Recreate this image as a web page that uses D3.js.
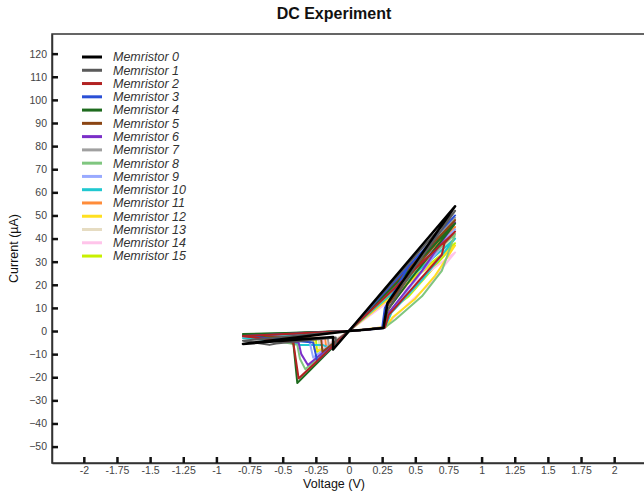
<!DOCTYPE html>
<html>
<head>
<meta charset="utf-8">
<script src="https://cdn.jsdelivr.net/npm/d3@7"></script>
<style>
  body { margin: 0; background: #fff; }
  svg { font-family: 'Liberation Sans', Arial, sans-serif; }
</style>
</head>
<body>
<svg id="chart" width="644" height="493"></svg>
<script>
// legend names and line colours
const names = [
  'Memristor 0', 'Memristor 1', 'Memristor 2', 'Memristor 3',
  'Memristor 4', 'Memristor 5', 'Memristor 6', 'Memristor 7',
  'Memristor 8', 'Memristor 9', 'Memristor 10', 'Memristor 11',
  'Memristor 12', 'Memristor 13', 'Memristor 14', 'Memristor 15'
];
const colors = [
  '#000000', '#5a5a5a', '#b22222', '#2a4fd6',
  '#1e6b1e', '#8b4513', '#7b2fc8', '#a0a0a0',
  '#7fc67f', '#99aaff', '#20c8d0', '#ff8c3a',
  '#ffe020', '#e6dcc2', '#ffc4ea', '#c8f000'
];

// I-V sweeps, [voltage (V), current (uA)]
const m0 = [[0,0],[0.12,0.6],[0.26,1.3],[0.29,12],[0.52,31],[0.8,54],[0.4,27],[0,0],[-0.12,-8],[-0.12,-2.6],[-0.45,-4],[-0.8,-5.6],[-0.4,-2.8],[0,0]];
const m1 = [[0,0],[0.12,0.6],[0.26,1.5],[0.28,8],[0.5,28],[0.8,52],[0.4,26],[0,0],[-0.1,-6.5],[-0.1,-2.8],[-0.55,-5.4],[-0.6,-6],[-0.8,-4.2],[-0.4,-2],[0,0]];
const m2 = [[0,0],[0.12,0.6],[0.27,1.5],[0.3,7],[0.5,20],[0.7,33],[0.72,38],[0.8,43],[0.4,21.5],[0,0],[-0.38,-20.5],[-0.42,-5],[-0.8,-2.2],[-0.4,-1.1],[0,0]];
const m3 = [[0,0],[0.12,0.5],[0.25,1.2],[0.27,10],[0.45,28],[0.8,50],[0.4,25],[0,0],[-0.24,-13],[-0.27,-5],[-0.8,-2.2],[-0.4,-1.1],[0,0]];
const m4 = [[0,0],[0.12,0.6],[0.26,1.4],[0.29,9],[0.5,25],[0.8,46.5],[0.4,23],[0,0],[-0.39,-22.5],[-0.42,-5],[-0.8,-1.3],[-0.4,-0.7],[0,0]];
const m5 = [[0,0],[0.12,0.6],[0.26,1.4],[0.29,11],[0.5,27],[0.8,48],[0.4,24],[0,0],[-0.2,-9],[-0.21,-3.5],[-0.8,-2],[-0.4,-1],[0,0]];
const m6 = [[0,0],[0.12,0.6],[0.27,1.5],[0.3,8],[0.55,26],[0.8,47],[0.4,23.5],[0,0],[-0.31,-14.7],[-0.36,-10],[-0.38,-5],[-0.8,-1.8],[-0.4,-0.9],[0,0]];
const m7 = [[0,0],[0.12,0.5],[0.26,1.2],[0.28,10],[0.5,28],[0.8,49],[0.4,24.5],[0,0],[-0.15,-7.5],[-0.16,-3],[-0.8,-2.5],[-0.4,-1.2],[0,0]];
const m8 = [[0,0],[0.12,0.6],[0.27,1.5],[0.35,5],[0.55,15],[0.7,26],[0.8,42],[0.4,21],[0,0],[-0.33,-16.5],[-0.37,-12],[-0.39,-6],[-0.8,-1.6],[-0.4,-0.8],[0,0]];
const m9 = [[0,0],[0.12,0.6],[0.26,1.3],[0.3,7],[0.5,22],[0.8,44],[0.4,22],[0,0],[-0.27,-11.5],[-0.3,-4],[-0.8,-2],[-0.4,-1],[0,0]];
const m10 = [[0,0],[0.12,0.6],[0.27,1.5],[0.32,8],[0.55,22],[0.8,40],[0.4,20],[0,0],[-0.16,-7],[-0.2,-6],[-0.37,-6],[-0.45,-4.5],[-0.8,-3],[-0.4,-1.5],[0,0]];
const m11 = [[0,0],[0.12,0.6],[0.26,1.4],[0.3,10],[0.5,25],[0.8,45],[0.4,22.5],[0,0],[-0.17,-8.5],[-0.18,-3],[-0.8,-2],[-0.4,-1],[0,0]];
const m12 = [[0,0],[0.12,0.7],[0.28,1.8],[0.33,6],[0.5,14],[0.65,24],[0.8,37],[0.4,18.5],[0,0],[-0.2,-8.5],[-0.26,-8],[-0.27,-3],[-0.8,-2],[-0.4,-1],[0,0]];
const m13 = [[0,0],[0.12,0.6],[0.27,1.5],[0.32,8],[0.55,22],[0.8,41],[0.4,20.5],[0,0],[-0.22,-9],[-0.23,-3],[-0.8,-2],[-0.4,-1],[0,0]];
const m14 = [[0,0],[0.12,0.7],[0.28,1.8],[0.34,6],[0.6,20],[0.8,34],[0.4,17],[0,0],[-0.19,-7],[-0.2,-3],[-0.8,-2],[-0.4,-1],[0,0]];
const m15 = [[0,0],[0.12,0.6],[0.27,1.6],[0.31,9],[0.45,15],[0.8,38],[0.4,19],[0,0],[-0.24,-9],[-0.25,-3.5],[-0.8,-2],[-0.4,-1],[0,0]];
const sweeps = [m0, m1, m2, m3, m4, m5, m6, m7, m8, m9, m10, m11, m12, m13, m14, m15];

// axis ticks
const xTicks = [-2, -1.75, -1.5, -1.25, -1, -0.75, -0.5, -0.25, 0, 0.25, 0.5, 0.75, 1, 1.25, 1.5, 1.75, 2];
const yTicks = [-50, -40, -30, -20, -10, 0, 10, 20, 30, 40, 50, 60, 70, 80, 90, 100, 110, 120];

const svg = d3.select('#chart');
const plotLeft = 52, plotRight = 646, plotTop = 34, plotBottom = 463;

const x = d3.scaleLinear().domain([-2.24, 2.24]).range([plotLeft, plotRight]);
const y = d3.scaleLinear().domain([-57.1, 128.5]).range([plotBottom, plotTop]);

// plot frame
svg.append('rect')
  .attr('x', plotLeft).attr('y', plotTop)
  .attr('width', plotRight - plotLeft).attr('height', plotBottom - plotTop)
  .attr('fill', 'none')
  .attr('stroke', '#333')
  .attr('stroke-width', 1.5);

// axes, ticks pointing inwards
const yAxis = svg.append('g')
  .attr('transform', `translate(${plotLeft},0)`)
  .call(d3.axisLeft(y).tickValues(yTicks).tickSizeInner(-6).tickSizeOuter(0).tickPadding(5));
const xAxis = svg.append('g')
  .attr('transform', `translate(0,${plotBottom})`)
  .call(d3.axisBottom(x).tickValues(xTicks).tickFormat(d => String(d)).tickSizeInner(-6).tickSizeOuter(0).tickPadding(4));

[yAxis, xAxis].forEach(g => {
  g.select('.domain').attr('stroke', '#333').attr('stroke-width', 1.5);
  g.selectAll('.tick line').attr('stroke', '#111').attr('stroke-width', 2.5);
  g.selectAll('.tick text')
    .attr('fill', '#444')
    .style('font-size', '10.5px')
    .style('font-family', "'Liberation Sans', Arial, sans-serif");
});

// curves, Memristor 0 on top
const line = d3.line().x(d => x(d[0])).y(d => y(d[1]));
const curves = svg.append('g');
for (let i = sweeps.length - 1; i >= 0; i--) {
  curves.append('path')
    .datum(sweeps[i])
    .attr('fill', 'none')
    .attr('stroke', colors[i])
    .attr('stroke-width', i === 0 ? 2.5 : 2)
    .attr('stroke-linejoin', 'round')
    .attr('d', line);
}

// legend
const legend = svg.append('g');
names.forEach((name, i) => {
  const ly = 57 + i * 13.27;
  legend.append('line')
    .attr('x1', 82).attr('x2', 102)
    .attr('y1', ly).attr('y2', ly)
    .attr('stroke', colors[i])
    .attr('stroke-width', 3);
  legend.append('text')
    .attr('x', 113).attr('y', ly)
    .attr('dy', '0.35em')
    .attr('fill', '#333')
    .style('font-size', '12.5px')
    .style('font-style', 'italic')
    .text(name);
});

// titles
svg.append('text')
  .attr('x', 334).attr('y', 19)
  .attr('text-anchor', 'middle')
  .attr('fill', '#111')
  .style('font-size', '16px')
  .style('font-weight', 'bold')
  .text('DC Experiment');

svg.append('text')
  .attr('x', 334).attr('y', 488)
  .attr('text-anchor', 'middle')
  .attr('fill', '#111')
  .style('font-size', '12.5px')
  .text('Voltage (V)');

svg.append('text')
  .attr('transform', `translate(18,${(plotTop + plotBottom) / 2}) rotate(-90)`)
  .attr('text-anchor', 'middle')
  .attr('fill', '#111')
  .style('font-size', '12.5px')
  .text('Current (µA)');
</script>
</body>
</html>
